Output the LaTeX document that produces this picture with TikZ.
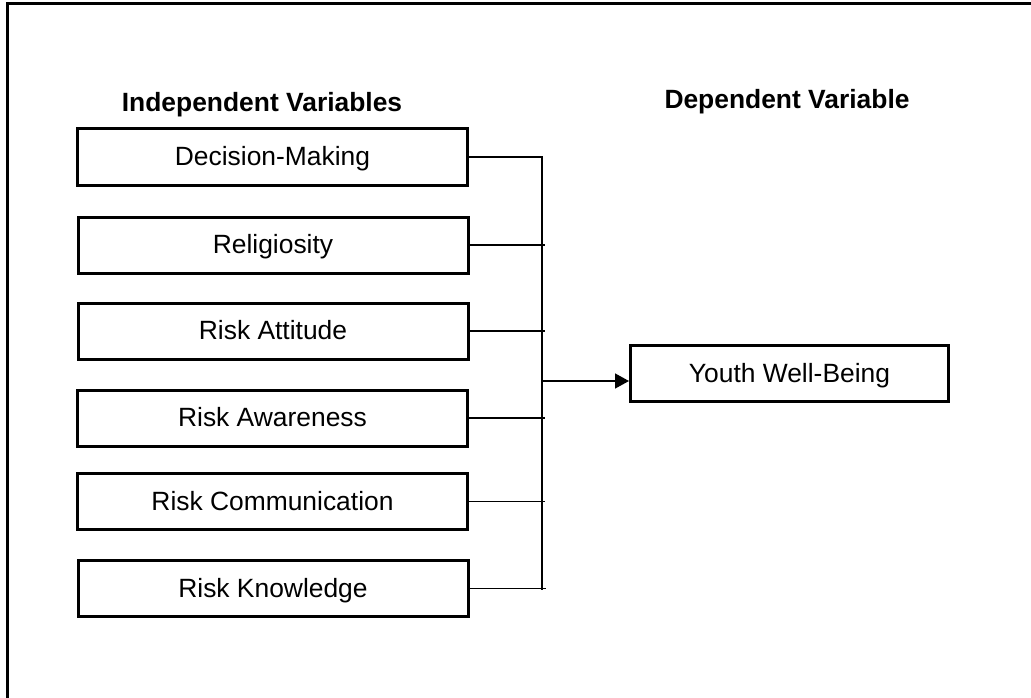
\documentclass[tikz,border=0pt]{standalone}
\usepackage{fontspec}
\setmainfont{Liberation Sans}
\usetikzlibrary{arrows.meta}
\begin{document}
\begin{tikzpicture}[x=1pt,y=-1pt,
  varbox/.style={draw,line width=3pt,minimum width=390pt,minimum height=56pt,
    inner sep=0pt,text height=21pt,text depth=4pt,
    font=\fontsize{26.4}{30}\selectfont},
  header/.style={inner sep=0pt,text height=21pt,text depth=4pt,
    font=\fontsize{26.4}{30}\selectfont\bfseries},
  link/.style={line width=1.5pt},
  arrowlink/.style={link,-{Triangle[length=14pt,width=15pt]}}]
% page area and outer frame (runs past the right and bottom edges)
\clip (0,0) rectangle (1031,698);
\draw[line width=3pt] (7.5,4) rectangle (1045,715);

% column headers
\node[header] (hind) at (262,103) {Independent Variables};
\node[header] (hdep) at (787,100) {Dependent Variable};

% independent variables
\node[varbox] (dm)   at (272.5,157)   {Decision-Making};
\node[varbox] (rel)  at (273,245)     {Religiosity};
\node[varbox] (ratt) at (273,331)     {Risk Attitude};
\node[varbox] (raw)  at (272.5,418)   {Risk Awareness};
\node[varbox] (rcom) at (272.5,501.5) {Risk Communication};
\node[varbox] (rkn)  at (273,588.5)   {Risk Knowledge};

% dependent variable
\node[varbox,minimum width=318pt] (yw) at (789.5,373.5) {Youth Well-Being};

% collecting bus
\coordinate (busend) at (542,590);
\coordinate (tick) at (545,0);
\coordinate (junc) at (542,381);
\draw[link] (dm.east) -| (busend);
\draw[link] (rel.east)  -- (rel.east -| tick);
\draw[link] (ratt.east) -- (ratt.east -| tick);
\draw[link] (raw.east)  -- (raw.east -| tick);
\draw[link] (rcom.east) -- (rcom.east -| tick);
\draw[link] (rkn.east)  -- ++(76,0);

% arrow into the dependent variable
\draw[arrowlink] (junc) -- (junc -| yw.west);
\end{tikzpicture}
\end{document}
